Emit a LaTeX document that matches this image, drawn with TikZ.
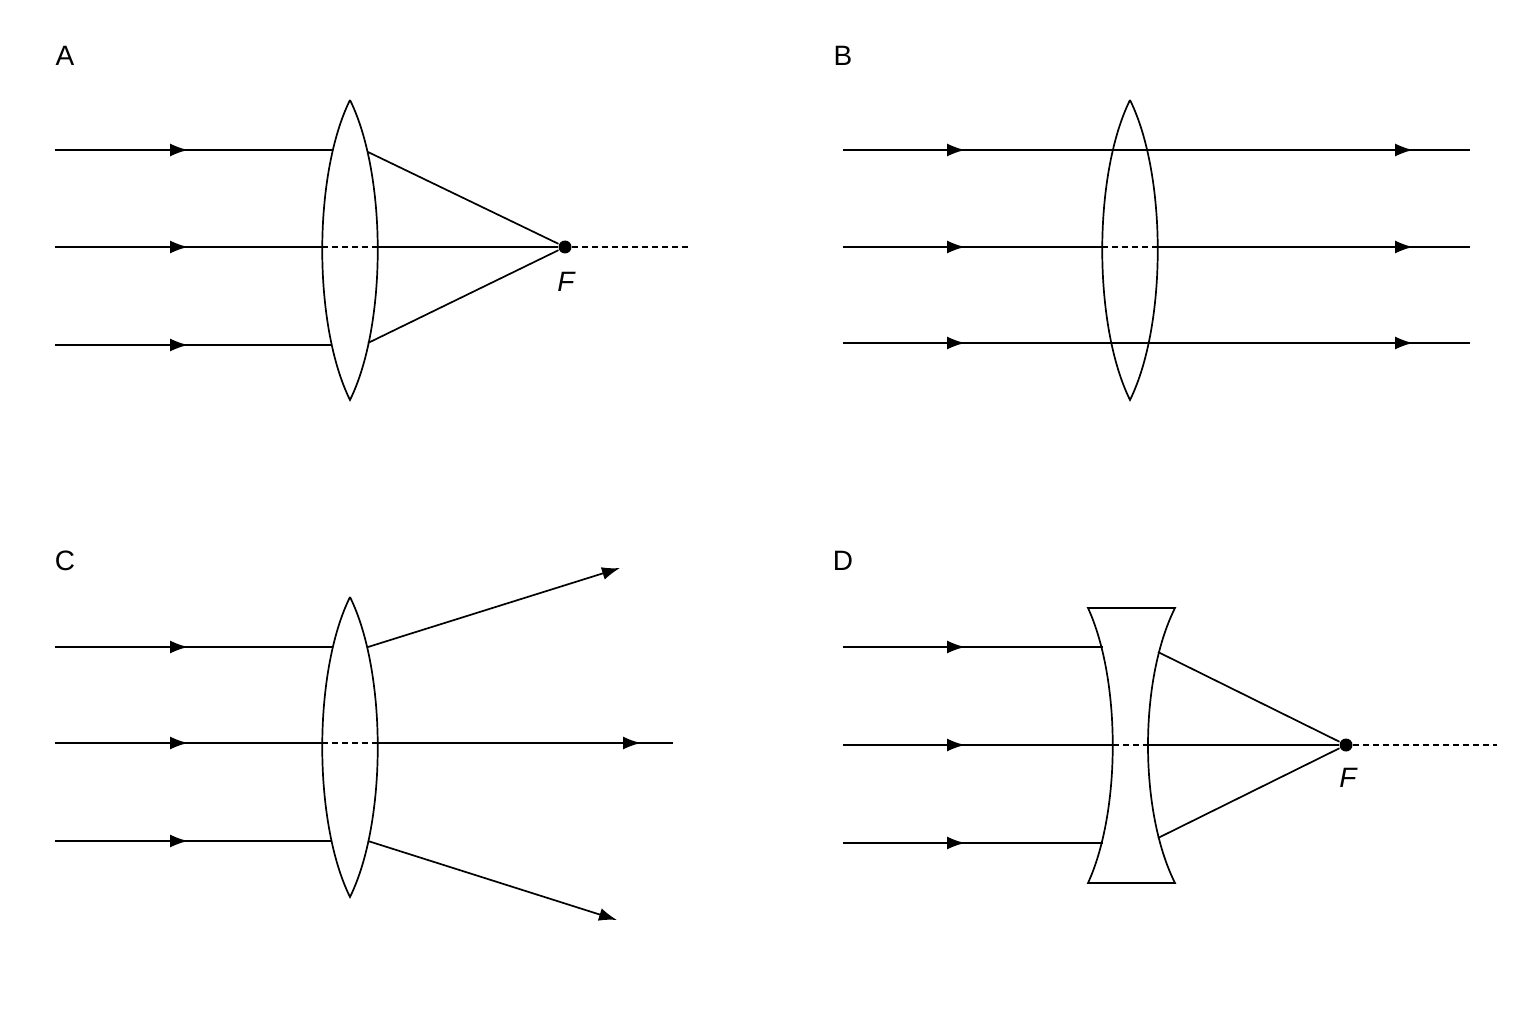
\documentclass[tikz,border=0pt]{standalone}
\usepackage{fontspec}
\setmainfont{Liberation Sans}
\usetikzlibrary{arrows.meta,decorations.markings}
\begin{document}
\begin{tikzpicture}[x=1pt,y=-1pt,line width=1.7pt,
  ray/.style={decoration={markings,mark=at position #1 with {\arrow{Latex[length=18pt,width=13pt]}}},postaction=decorate},
  ray/.default=133pt,
  lens/.style={line width=1.7pt,fill=white},
  dsh/.style={dash pattern=on 6pt off 4pt},
  lbl/.style={font=\fontsize{28}{30}\selectfont},
  dot/.style={circle,fill=black,inner sep=0pt,minimum size=13pt}]
\useasboundingbox (0,0) rectangle (1536,1024);
% ---------- A
\node[lbl] (la) at (65,56) {A};
\coordinate (a1) at (55,150); \coordinate (a2) at (55,247); \coordinate (a3) at (55,345);
\coordinate (a1e) at (332,150); \coordinate (a2e) at (322,247); \coordinate (a3e) at (332,345);
\coordinate (a1o) at (368,152); \coordinate (a3o) at (368,343); \coordinate (a2o) at (378,247);
\node[dot] (fa) at (565,247) {};
\node[lbl,font=\itshape\fontsize{28}{30}\selectfont] at (566,282) {F};
\coordinate (ae) at (692,247);
\draw[ray] (a1) -- (a1e); \draw[ray] (a3) -- (a3e); \draw[ray] (a2) -- (a2e);
\draw (350,100) .. controls (313,175) and (313,325) .. (350,400) .. controls (387,325) and (387,175) .. (350,100);
\draw[dsh] (a2e) -- (a2o);
\draw (a2o) -- (fa); \draw (a1o) -- (fa); \draw (a3o) -- (fa);
\draw[dsh] (fa) -- (ae);
% ---------- B
\node[lbl] (lb) at (843,56) {B};
\foreach \y/\n in {150/1,247/2,343/3}{
  \coordinate (b\n) at (843,\y); \coordinate (b\n e) at (1470,\y);
  \draw[ray=122pt,decoration={markings,mark=at position 570pt with {\arrow{Latex[length=18pt,width=13pt]}}}] (b\n) -- (b\n e);
}
\draw[lens] (1130,100) .. controls (1093,175) and (1093,325) .. (1130,400) .. controls (1167,325) and (1167,175) .. (1130,100);
\draw (1112,150) -- (1148,150); \draw (1112,343) -- (1148,343);
\draw[dsh] (1102,247) -- (1158,247);
% ---------- C
\node[lbl] (lc) at (65,561) {C};
\coordinate (c1) at (55,647); \coordinate (c2) at (55,743); \coordinate (c3) at (55,841);
\coordinate (c1e) at (332,647); \coordinate (c2e) at (322,743); \coordinate (c3e) at (332,841);
\coordinate (c1o) at (368,647); \coordinate (c2o) at (378,743); \coordinate (c3o) at (368,841);
\coordinate (c1t) at (620,568); \coordinate (c2t) at (673,743); \coordinate (c3t) at (617,920);
\draw[ray] (c1) -- (c1e); \draw[ray] (c2) -- (c2e); \draw[ray] (c3) -- (c3e);
\draw (350,597) .. controls (313,672) and (313,822) .. (350,897) .. controls (387,822) and (387,672) .. (350,597);
\draw[dsh] (c2e) -- (c2o);
\draw[-{Latex[length=18pt,width=13pt]}] (c1o) -- (c1t);
\draw[-{Latex[length=18pt,width=13pt]}] (c3o) -- (c3t);
\draw[ray=263pt] (c2o) -- (c2t);
% ---------- D
\node[lbl] (ld) at (843,561) {D};
\coordinate (d1) at (843,647); \coordinate (d2) at (843,745); \coordinate (d3) at (843,843);
\coordinate (d1e) at (1103,647); \coordinate (d2e) at (1113,745); \coordinate (d3e) at (1103,843);
\coordinate (d1o) at (1158,652); \coordinate (d2o) at (1148,745); \coordinate (d3o) at (1158,838);
\node[dot] (fd) at (1346,745) {};
\node[lbl,font=\itshape\fontsize{28}{30}\selectfont] at (1348,778) {F};
\coordinate (de) at (1497,745);
\draw[ray=122pt] (d1) -- (d1e); \draw[ray=122pt] (d2) -- (d2e); \draw[ray=122pt] (d3) -- (d3e);
\draw (1088,608) -- (1175,608) .. controls (1139,680) and (1139,811) .. (1175,883) -- (1088,883) .. controls (1121,811) and (1121,680) .. (1088,608) -- cycle;
\draw[dsh] (d2e) -- (d2o);
\draw (d2o) -- (fd); \draw (d1o) -- (fd); \draw (d3o) -- (fd);
\draw[dsh] (fd) -- (de);
\end{tikzpicture}
\end{document}
